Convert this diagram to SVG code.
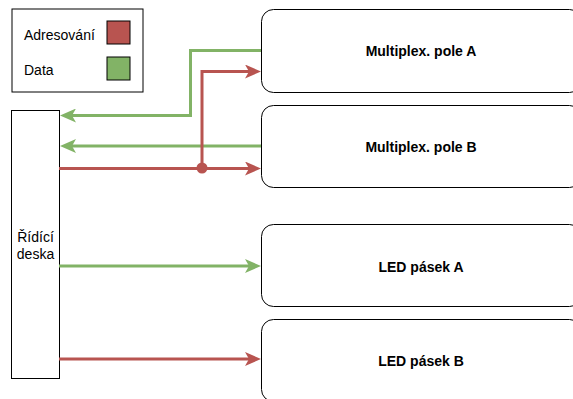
<svg xmlns="http://www.w3.org/2000/svg" width="573" height="399" viewBox="0 0 573 399">
<style>
.box{fill:#fff;stroke:#000;stroke-width:1}
.lbl{font-family:"Liberation Sans",Arial,sans-serif;font-size:14px;fill:#000}
.b{font-weight:bold;text-anchor:middle}
.g{fill:none;stroke:#82b366;stroke-width:3}
.r{fill:none;stroke:#b85450;stroke-width:3}
</style>
<defs>
<marker id="ag" viewBox="0 0 16 14" refX="4" refY="7" markerWidth="16" markerHeight="14" markerUnits="userSpaceOnUse" orient="auto"><path d="M0,0 L16,7 L0,14 L4,7 Z" fill="#82b366"/></marker>
<marker id="ar" viewBox="0 0 16 14" refX="4" refY="7" markerWidth="16" markerHeight="14" markerUnits="userSpaceOnUse" orient="auto"><path d="M0,0 L16,7 L0,14 L4,7 Z" fill="#b85450"/></marker>
</defs>
<rect width="573" height="399" fill="#fff"/>
<g id="legend">
<rect class="box" x="12" y="9" width="131" height="83"/>
<text class="lbl" x="24" y="40">Adresování</text>
<rect x="107" y="21" width="23" height="23" fill="#b85450" stroke="#000"/>
<text class="lbl" x="24" y="75">Data</text>
<rect x="107" y="57" width="23" height="23" fill="#82b366" stroke="#000"/>
</g>
<g id="deska">
<rect class="box" x="11.5" y="110.5" width="48" height="268"/>
<text class="lbl" text-anchor="middle" x="35.5" y="242">Řídící</text>
<text class="lbl" text-anchor="middle" x="35.5" y="259">deska</text>
</g>
<g id="muxA">
<rect class="box" x="261.5" y="9.5" width="320" height="83" rx="12"/>
<text class="lbl b" x="421" y="56">Multiplex. pole A</text>
</g>
<g id="muxB">
<rect class="box" x="261.5" y="105.5" width="320" height="82" rx="12"/>
<text class="lbl b" x="421" y="152">Multiplex. pole B</text>
</g>
<g id="ledA">
<rect class="box" x="261.5" y="224.5" width="320" height="82" rx="12"/>
<text class="lbl b" x="421" y="272">LED pásek A</text>
</g>
<g id="ledB">
<rect class="box" x="261.5" y="319.5" width="320" height="82" rx="12"/>
<text class="lbl b" x="421" y="366">LED pásek B</text>
</g>
<g id="connectors">
<path class="g" d="M261,50.5 H190.5 V115.5 H72" marker-end="url(#ag)"/>
<path class="g" d="M261,146 H72" marker-end="url(#ag)"/>
<path class="r" d="M59,168.5 H249" marker-end="url(#ar)"/>
<path class="r" d="M202,168.5 V71.5 H249" marker-end="url(#ar)"/>
<circle cx="202" cy="168" r="5.5" fill="#b85450"/>
<path class="g" d="M59,266 H249" marker-end="url(#ag)"/>
<path class="r" d="M59,359 H249" marker-end="url(#ar)"/>
</g>
</svg>
